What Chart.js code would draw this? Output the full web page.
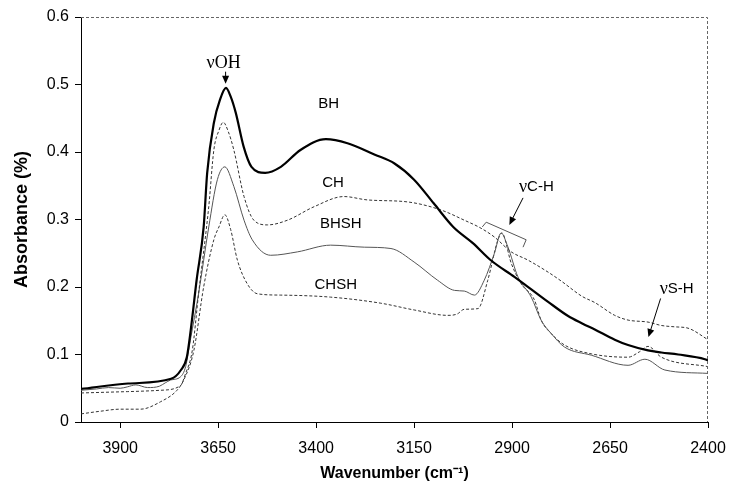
<!DOCTYPE html>
<html>
<head>
<meta charset="utf-8">
<script src="https://cdn.jsdelivr.net/npm/chart.js@4.4.1/dist/chart.umd.min.js"></script>
<style>
  html, body { margin: 0; padding: 0; background: #fff; }
</style>
</head>
<body>
<canvas id="plots" width="731" height="488"></canvas>
<script>
/* FTIR spectra of the four samples */

var xTicks = [3900, 3650, 3400, 3150, 2900, 2650, 2400];

var bhWn  = [4000,3880,3770,3745,3730,3720,3705,3687,3678,3661,3645,3630,3618,3605,3585,3565,3530,3490,3440,3375,3320,3250,3200,3150,3100,3050,3000,2955,2894,2868,2808,2757,2721,2689,2638,2604,2553,2519,2476,2408,2400];
var bhAbs = [0.049,0.057,0.064,0.077,0.096,0.136,0.21,0.289,0.369,0.443,0.478,0.495,0.482,0.458,0.408,0.378,0.369,0.378,0.403,0.419,0.413,0.396,0.383,0.359,0.324,0.289,0.265,0.240,0.215,0.204,0.178,0.157,0.146,0.137,0.122,0.114,0.106,0.103,0.100,0.093,0.091];

var chWn  = [4000,3882,3797,3746,3733,3716,3700,3674,3661,3648,3637,3624,3610,3584,3559,3524,3473,3405,3329,3269,3166,3081,3022,2979,2945,2902,2860,2808,2775,2721,2689,2638,2604,2553,2519,2485,2451,2400];
var chAbs = [0.043,0.045,0.047,0.054,0.072,0.106,0.19,0.319,0.403,0.432,0.444,0.43,0.403,0.334,0.299,0.292,0.299,0.319,0.334,0.329,0.326,0.314,0.299,0.287,0.274,0.252,0.240,0.222,0.209,0.186,0.177,0.158,0.151,0.148,0.143,0.141,0.139,0.122];

var bhshWn  = [4000,3960,3930,3900,3882,3860,3830,3800,3785,3772,3746,3733,3721,3700,3674,3652,3633,3610,3584,3563,3516,3448,3363,3277,3209,3150,3090,3047,3022,2996,2971,2945,2928,2911,2885,2851,2826,2800,2766,2698,2604,2561,2510,2400];
var bhshAbs = [0.047,0.049,0.051,0.050,0.052,0.055,0.051,0.053,0.058,0.062,0.067,0.082,0.121,0.19,0.289,0.359,0.378,0.349,0.299,0.270,0.247,0.252,0.262,0.259,0.257,0.237,0.210,0.195,0.194,0.188,0.210,0.250,0.280,0.260,0.215,0.185,0.151,0.131,0.111,0.099,0.084,0.093,0.077,0.072];

var chshWn  = [4000,3950,3900,3848,3797,3755,3738,3712,3687,3661,3648,3633,3618,3601,3576,3550,3490,3363,3235,3150,3064,3040,3022,2987,2962,2936,2926,2902,2877,2843,2826,2800,2766,2698,2604,2575,2553,2519,2400];
var chshAbs = [0.012,0.016,0.019,0.019,0.030,0.047,0.062,0.106,0.20,0.27,0.289,0.307,0.285,0.240,0.205,0.190,0.188,0.185,0.176,0.166,0.158,0.160,0.167,0.168,0.210,0.270,0.280,0.235,0.205,0.181,0.151,0.131,0.114,0.101,0.096,0.104,0.112,0.096,0.082];

/* labels on the plot, in data units */
var noteText = ['νOH', 'BH', 'CH', 'BHSH', 'CHSH', 'νC-H', 'νS-H'];
var noteWn   = [3636, 3368, 3357, 3337, 3350, 2838, 2480];
var noteAbs  = [0.532, 0.471, 0.354, 0.293, 0.203, 0.348, 0.197];

var arrowFrom = [[3631, 0.519], [2872, 0.332], [2521, 0.183]];
var arrowTo   = [[3631, 0.501], [2907, 0.292], [2552, 0.126]];

var bracketWn  = [2976, 2966, 2864, 2872];
var bracketAbs = [0.289, 0.296, 0.270, 0.259];

function pairs(xs, ys) {
    return xs.map(function (x, i) { return { x: x, y: ys[i] }; });
}

function drawArrow(ctx, x1, y1, x2, y2) {
    var ang = Math.atan2(y2 - y1, x2 - x1);
    var len = 8, half = 3.5;
    ctx.beginPath();
    ctx.moveTo(x1, y1);
    ctx.lineTo(x2 - Math.cos(ang) * len * 0.8, y2 - Math.sin(ang) * len * 0.8);
    ctx.stroke();
    ctx.beginPath();
    ctx.moveTo(x2, y2);
    ctx.lineTo(x2 - Math.cos(ang) * len + Math.sin(ang) * half, y2 - Math.sin(ang) * len - Math.cos(ang) * half);
    ctx.lineTo(x2 - Math.cos(ang) * len - Math.sin(ang) * half, y2 - Math.sin(ang) * len + Math.cos(ang) * half);
    ctx.closePath();
    ctx.fill();
}

var notesPlugin = {
    id: 'notes',
    afterDraw: function (chart) {
        var ctx = chart.ctx, xs = chart.scales.x, ys = chart.scales.y, area = chart.chartArea;
        ctx.save();

        // dotted frame on top and right
        ctx.strokeStyle = '#666';
        ctx.lineWidth = 1;
        ctx.setLineDash([3, 2]);
        ctx.beginPath();
        ctx.moveTo(area.left, Math.round(area.top) + 0.5);
        ctx.lineTo(Math.round(area.right) - 0.5, Math.round(area.top) + 0.5);
        ctx.lineTo(Math.round(area.right) - 0.5, area.bottom);
        ctx.stroke();
        ctx.setLineDash([]);

        // text labels
        ctx.fillStyle = '#000';
        ctx.textBaseline = 'middle';
        ctx.textAlign = 'left';
        noteText.forEach(function (t, i) {
            var px = xs.getPixelForValue(noteWn[i]);
            var py = ys.getPixelForValue(noteAbs[i]);
            var parts;
            if (t === 'νOH') parts = [[t, '18px "Liberation Serif", "Times New Roman", serif']];
            else if (t.charAt(0) === 'ν') parts = [['ν', '18px "Liberation Serif", "Times New Roman", serif'], [t.slice(1), '15px "Liberation Sans", Arial, sans-serif']];
            else parts = [[t, '15px "Liberation Sans", Arial, sans-serif']];
            var total = 0;
            parts.forEach(function (p) { ctx.font = p[1]; total += ctx.measureText(p[0]).width; });
            var cx = px - total / 2;
            parts.forEach(function (p) {
                ctx.font = p[1];
                ctx.fillText(p[0], cx, py);
                cx += ctx.measureText(p[0]).width;
            });
        });

        // arrows
        ctx.strokeStyle = '#000';
        ctx.lineWidth = 1;
        arrowFrom.forEach(function (a, i) {
            drawArrow(ctx,
                xs.getPixelForValue(a[0]), ys.getPixelForValue(a[1]),
                xs.getPixelForValue(arrowTo[i][0]), ys.getPixelForValue(arrowTo[i][1]));
        });

        // bracket over the C-H band
        ctx.strokeStyle = '#555';
        ctx.beginPath();
        bracketWn.forEach(function (w, i) {
            var px = xs.getPixelForValue(w), py = ys.getPixelForValue(bracketAbs[i]);
            if (i === 0) ctx.moveTo(px, py); else ctx.lineTo(px, py);
        });
        ctx.stroke();

        ctx.restore();
    }
};

var popCanvas = document.getElementById('plots').getContext('2d');

var spectra = new Chart(popCanvas, {
    type: 'line',
    data: {
        datasets: [{
            label: 'BH',
            data: pairs(bhWn, bhAbs),
            borderColor: '#000',
            borderWidth: 2.2
        }, {
            label: 'CH',
            data: pairs(chWn, chAbs),
            borderColor: '#333',
            borderWidth: 1,
            borderDash: [3, 2]
        }, {
            label: 'BHSH',
            data: pairs(bhshWn, bhshAbs),
            borderColor: '#555',
            borderWidth: 1
        }, {
            label: 'CHSH',
            data: pairs(chshWn, chshAbs),
            borderColor: '#333',
            borderWidth: 1,
            borderDash: [3, 2]
        }]
    },
    options: {
        responsive: false,
        animation: false,
        devicePixelRatio: 1,
        layout: { padding: { top: 17, right: 23, left: 0, bottom: 0 } },
        elements: {
            point: { radius: 0 },
            line: { cubicInterpolationMode: 'monotone', fill: false }
        },
        plugins: {
            legend: { display: false },
            tooltip: { enabled: false }
        },
        scales: {
            x: {
                type: 'linear',
                reverse: true,
                min: 2400,
                max: 4000,
                afterBuildTicks: function (axis) {
                    axis.ticks = xTicks.map(function (v) { return { value: v }; });
                },
                afterFit: function (scale) {
                    scale.height = 66;
                    scale.paddingLeft = 0;
                    scale.paddingRight = 0;
                },
                ticks: {
                    color: '#000',
                    padding: 11,
                    maxRotation: 0,
                    autoSkip: false,
                    font: { family: '"Liberation Sans", Arial, sans-serif', size: 16 },
                    callback: function (v) { return String(v); }
                },
                grid: { drawOnChartArea: false, drawTicks: true, tickLength: 6, color: '#000' },
                border: { display: true, color: '#000', width: 1 },
                title: {
                    display: true,
                    text: 'Wavenumber (cm⁻¹)',
                    color: '#000',
                    padding: { top: 0, bottom: 5 },
                    font: { family: '"Liberation Sans", Arial, sans-serif', size: 16, weight: 'bold' }
                }
            },
            y: {
                min: 0,
                max: 0.6,
                afterFit: function (scale) {
                    scale.width = 81;
                    scale.paddingTop = 0;
                    scale.paddingBottom = 0;
                },
                ticks: {
                    stepSize: 0.1,
                    color: '#000',
                    padding: 6,
                    font: { family: '"Liberation Sans", Arial, sans-serif', size: 16 },
                    callback: function (v) { var r = Math.round(v * 10) / 10; return r === 0 ? '0' : r.toFixed(1); }
                },
                grid: { drawOnChartArea: false, drawTicks: true, tickLength: 6, color: '#000' },
                border: { display: true, color: '#000', width: 1 },
                title: {
                    display: true,
                    text: 'Absorbance (%)',
                    color: '#000',
                    padding: { top: 11, bottom: 0 },
                    font: { family: '"Liberation Sans", Arial, sans-serif', size: 18, weight: 'bold' }
                }
            }
        }
    },
    plugins: [notesPlugin]
});
</script>
</body>
</html>
